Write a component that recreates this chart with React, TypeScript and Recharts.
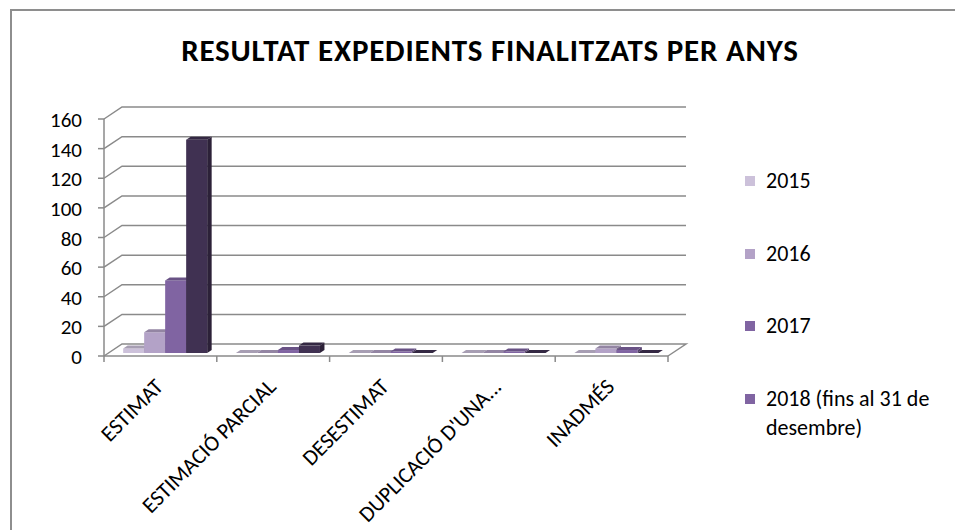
import { BarChart, Bar, XAxis, YAxis, CartesianGrid, Legend } from "recharts";

const FONT = "Carlito, Calibri, Lato, sans-serif";
const LINE = "#8a8a8a";

const CATEGORIES = ["ESTIMAT", "ESTIMACIÓ PARCIAL", "DESESTIMAT", "DUPLICACIÓ D'UNA...", "INADMÉS"];
const SERIES = ["2015", "2016", "2017", "2018 (fins al 31 de desembre)"];
const V2015 = [3, 0, 0, 0, 0];
const V2016 = [14, 0, 0, 0, 3];
const V2017 = [49, 2, 1, 1, 2];
const V2018 = [144, 5, 0, 0, 0];
const Y_TICKS = [0, 20, 40, 60, 80, 100, 120, 140, 160];
const BAR_COLORS = ["#CCC1DA", "#B3A2C7", "#8064A2", "#403152"];
const LEGEND_COLORS = ["#CCC1DA", "#B3A2C7", "#8064A2", "#8064A2"];

// depth of the 3D floor, and where the columns sit inside it
const DX = 18;
const DY = 12;
const BX = DX / 4;
const BY = DY / 4;

const data = CATEGORIES.map((name, i) => ({
  name,
  s0: V2015[i],
  s1: V2016[i],
  s2: V2017[i],
  s3: V2018[i],
}));

function shade(hex: string, f: number) {
  const n = parseInt(hex.slice(1), 16);
  const r = Math.round(((n >> 16) & 255) * f);
  const g = Math.round(((n >> 8) & 255) * f);
  const b = Math.round((n & 255) * f);
  return `rgb(${r},${g},${b})`;
}

function Column3D(props: any) {
  const { x, y, width, height, fill } = props;
  if (x == null || y == null) return null;
  const h = Math.max(0, height || 0);
  const x0 = x + BX;
  const y0 = y - BY;
  const dx = BX;
  const dy = BY;
  const top = `M${x0},${y0} L${x0 + width},${y0} L${x0 + width + dx},${y0 - dy} L${x0 + dx},${y0 - dy} Z`;
  const side = `M${x0 + width},${y0} L${x0 + width + dx},${y0 - dy} L${x0 + width + dx},${y0 + h - dy} L${x0 + width},${y0 + h} Z`;
  return (
    <g>
      <path d={side} fill={shade(fill, 0.68)} />
      <rect x={x0} y={y0} width={width} height={h} fill={fill} />
      <path d={top} fill={shade(fill, 0.82)} />
    </g>
  );
}

function GridLine(props: any) {
  const { x1, x2, y1, index } = props;
  const d =
    y1 >= props.bottomY - 0.5
      ? `M${x1},${y1} L${x1 + DX},${y1 - DY} L${x2 + DX},${y1 - DY} L${x2},${y1}`
      : `M${x1},${y1} L${x1 + DX},${y1 - DY} L${x2 + DX},${y1 - DY}`;
  return <path key={`g-${index}`} d={d} fill="none" stroke={LINE} strokeWidth={1.5} />;
}

function CategoryTick(props: any) {
  const { x, y, payload, index, visibleTicksCount } = props;
  const half = payload.offset || 0;
  const axisY = y - 6;
  const isLast = index === visibleTicksCount - 1;
  const tx = x + 4;
  const ty = axisY + 32;
  return (
    <g>
      <line x1={x - half} y1={axisY} x2={x - half} y2={axisY + 6} stroke={LINE} strokeWidth={1.5} />
      {isLast && <line x1={x + half} y1={axisY} x2={x + half} y2={axisY + 6} stroke={LINE} strokeWidth={1.5} />}
      <text
        x={tx}
        y={ty}
        textAnchor="end"
        transform={`rotate(-45, ${tx}, ${ty})`}
        fontFamily={FONT}
        fontSize={22}
        fill="#000"
      >
        {payload.value}
      </text>
    </g>
  );
}

function ValueTick(props: any) {
  const { x, y, payload } = props;
  return (
    <text x={x} y={y} dy={8} textAnchor="end" fontFamily={FONT} fontSize={21} fill="#000">
      {payload.value}
    </text>
  );
}

function LegendBox(props: any) {
  const payload = props.payload || [];
  return (
    <div style={{ position: "relative", width: 210, height: 300, fontFamily: FONT, fontSize: 22, color: "#000" }}>
      {payload.map((entry: any, i: number) => (
        <div key={entry.value} style={{ position: "absolute", left: 0, top: i * 72.5, display: "flex", alignItems: "flex-start", lineHeight: "29px" }}>
          <span style={{ display: "inline-block", width: 10, height: 10, marginTop: 10, marginRight: 11, background: LEGEND_COLORS[i] }} />
          <span style={{ width: 185 }}>{entry.value}</span>
        </div>
      ))}
    </div>
  );
}

export default function App() {
  const plotBottom = 356;
  return (
    <div style={{ position: "absolute", left: 0, top: 0, width: 955, height: 530, background: "#fff", overflow: "hidden" }}>
      <div style={{ position: "absolute", left: 10, top: 9, width: 980, height: 560, border: "2px solid #8e8e8e", boxSizing: "border-box" }} />
      <div
        style={{
          position: "absolute",
          left: 0,
          top: 31,
          width: 980,
          textAlign: "center",
          fontFamily: FONT,
          fontWeight: 700,
          fontSize: 31,
          letterSpacing: 0.8,
          color: "#000",
        }}
      >
        RESULTAT EXPEDIENTS FINALITZATS PER ANYS
      </div>
      <div style={{ position: "absolute", left: 0, top: 0 }}>
        <BarChart
          width={955}
          height={530}
          data={data}
          margin={{ top: 119, right: 287, bottom: 0, left: 0 }}
          barCategoryGap="13%"
          barGap={0}
        >
          <CartesianGrid
            vertical={false}
            horizontal={(p: any) => <GridLine {...p} bottomY={plotBottom} />}
          />
          <XAxis
            dataKey="name"
            height={174}
            interval={0}
            tickLine={false}
            tickSize={6}
            tickMargin={0}
            axisLine={{ stroke: LINE, strokeWidth: 1.5 }}
            tick={<CategoryTick />}
          />
          <YAxis
            width={104}
            domain={[0, 160]}
            ticks={Y_TICKS}
            interval={0}
            tickSize={6}
            tickMargin={16}
            tickLine={{ stroke: LINE, strokeWidth: 1.5 }}
            axisLine={{ stroke: LINE, strokeWidth: 1.5 }}
            tick={<ValueTick />}
          />
          <Legend
            layout="vertical"
            align="center"
            verticalAlign="middle"
            content={<LegendBox />}
            wrapperStyle={{ position: "absolute", left: 745, top: 166, width: 210, height: 300 }}
          />
          {SERIES.map((s, i) => (
            <Bar
              key={s}
              dataKey={`s${i}`}
              name={s}
              fill={BAR_COLORS[i]}
              shape={<Column3D />}
              isAnimationActive={false}
            />
          ))}
        </BarChart>
      </div>
    </div>
  );
}
